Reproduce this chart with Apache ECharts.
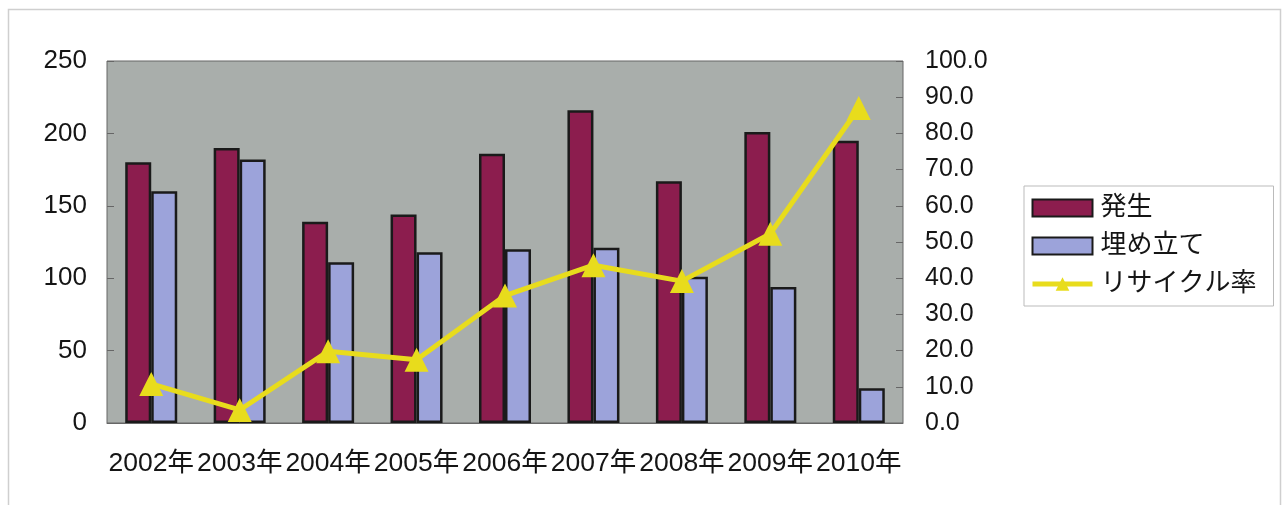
<!DOCTYPE html>
<html>
<head>
<meta charset="utf-8">
<script src="https://cdn.jsdelivr.net/npm/echarts@6/dist/echarts.min.js"></script>
<style>
  html, body { margin: 0; padding: 0; background: #fff; }
  #main { width: 1283px; height: 505px; }
</style>
</head>
<body>
<div id="main"></div>
<script>
// 年次データ
var years = ['2002年', '2003年', '2004年', '2005年', '2006年', '2007年', '2008年', '2009年', '2010年'];
var hassei = [180, 190, 139, 144, 186, 216, 167, 201, 195];
var umetate = [160, 182, 111, 118, 120, 121, 101, 94, 24];
var recycleRate = [10.8, 3.6, 19.8, 17.5, 35.2, 43.6, 39.2, 52.3, 87.0];

var font = "'Liberation Sans', 'Noto Sans CJK JP', sans-serif";

var chart = echarts.init(document.getElementById('main'));

var option = {
  backgroundColor: '#ffffff',
  animation: false,
  textStyle: { fontFamily: font },
  graphic: [{
    type: 'rect',
    shape: { x: 8.5, y: 9.5, width: 1272, height: 510 },
    style: { fill: 'none', stroke: '#cfcfcf', lineWidth: 1.5 },
    silent: true
  }],
  grid: {
    left: 107,
    top: 61,
    right: 380,
    bottom: 82,
    show: true,
    backgroundColor: '#a9aeab',
    borderColor: '#666',
    borderWidth: 1
  },
  legend: {
    orient: 'vertical',
    left: 1024,
    top: 186,
    padding: [9, 17, 9, 6],
    itemWidth: 60,
    itemHeight: 17,
    itemGap: 12,
    borderColor: '#bbb',
    borderWidth: 1,
    textStyle: { fontSize: 26, color: '#151515', fontFamily: font, padding: [0, 0, 0, 3] },
    data: [
      { name: '発生', icon: 'rect' },
      { name: '埋め立て', icon: 'rect' },
      { name: 'リサイクル率', lineStyle: { width: 5 } }
    ]
  },
  xAxis: {
    type: 'category',
    data: years,
    axisLine: { lineStyle: { color: '#666', width: 1 } },
    axisTick: { inside: true, length: 7, lineStyle: { color: '#666' } },
    axisLabel: { interval: 0, fontSize: 26.5, color: '#151515', margin: 27 },
    splitLine: { show: false }
  },
  yAxis: [{
    type: 'value',
    min: 0,
    max: 250,
    interval: 50,
    axisLine: { show: false },
    axisTick: { show: true, inside: true, length: 7, lineStyle: { color: '#666' } },
    axisLabel: { fontSize: 26, color: '#151515', margin: 20 },
    splitLine: { show: false }
  }, {
    type: 'value',
    min: 0,
    max: 100,
    interval: 10,
    position: 'right',
    axisLine: { show: false },
    axisTick: { show: true, inside: true, length: 7, lineStyle: { color: '#666' } },
    axisLabel: {
      fontSize: 25,
      color: '#151515',
      margin: 22,
      formatter: function (v) { return v.toFixed(1); }
    },
    splitLine: { show: false }
  }],
  series: [{
    name: '発生',
    type: 'bar',
    data: hassei,
    barWidth: 26,
    barGap: '0%',
    itemStyle: { color: '#8c1d4e', borderColor: '#1a1a1a', borderWidth: 2.5 }
  }, {
    name: '埋め立て',
    type: 'bar',
    data: umetate,
    barWidth: 26,
    itemStyle: { color: '#9ca3da', borderColor: '#1a1a1a', borderWidth: 2.5 }
  }, {
    name: 'リサイクル率',
    type: 'line',
    yAxisIndex: 1,
    data: recycleRate,
    symbol: 'triangle',
    symbolSize: 24,
    z: 5,
    lineStyle: { color: '#e8dc1c', width: 5 },
    itemStyle: { color: '#e8dc1c' }
  }]
};

chart.setOption(option);
</script>
</body>
</html>
